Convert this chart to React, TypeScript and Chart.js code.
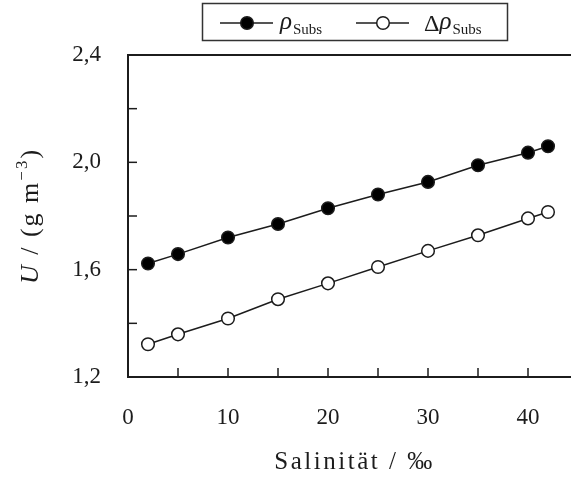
import React, { useEffect, useRef } from 'react';
import { Chart, registerables } from 'chart.js';

Chart.register(...registerables);

// ---- data ----
const salinity = [2, 5, 10, 15, 20, 25, 30, 35, 40, 42];
const rhoSubs = [1.623, 1.658, 1.72, 1.77, 1.829, 1.88, 1.927, 1.989, 2.036, 2.06];
const deltaRhoSubs = [1.322, 1.359, 1.418, 1.49, 1.549, 1.61, 1.67, 1.728, 1.791, 1.815];

const xTickValues = [0, 5, 10, 15, 20, 25, 30, 35, 40];
const xLabelledTicks = [0, 10, 20, 30, 40];
const yTickValues = [1.2, 1.4, 1.6, 1.8, 2.0, 2.2, 2.4];
const yLabelledTicks = [1.2, 1.6, 2.0, 2.4];

const legendPrefixes = ['', 'Δ'];
const legendMain = ['ρ', 'ρ'];
const legendSub = ['Subs', 'Subs'];

const xTitle = 'Salinität / ‰';
const yTitleItalic = 'U';
const yTitleText = ' / (g m';
const yTitleSup = '−3';
const yTitleClose = ')';

const FONT = '"Liberation Serif", "Times New Roman", serif';
const INK = '#1c1c1c';

const near = (a: number, list: number[]) => list.some((v) => Math.abs(v - a) < 1e-6);

const decorPlugin = {
  id: 'decor',
  afterDraw(chart: any) {
    const ctx: CanvasRenderingContext2D = chart.ctx;
    const area = chart.chartArea;
    const xs = chart.scales.x;
    const ys = chart.scales.y;
    ctx.save();
    ctx.strokeStyle = INK;
    ctx.fillStyle = INK;

    // top border
    ctx.lineWidth = 2;
    ctx.beginPath();
    ctx.moveTo(area.left, area.top);
    ctx.lineTo(area.right, area.top);
    ctx.stroke();

    // inward tick marks
    ctx.lineWidth = 1.5;
    ys.ticks.forEach((t: any) => {
      const y = ys.getPixelForValue(t.value);
      ctx.beginPath();
      ctx.moveTo(area.left, y);
      ctx.lineTo(area.left + 9, y);
      ctx.stroke();
    });
    xs.ticks.forEach((t: any) => {
      if (t.value <= 0) return;
      const x = xs.getPixelForValue(t.value);
      ctx.beginPath();
      ctx.moveTo(x, area.bottom);
      ctx.lineTo(x, area.bottom - 9);
      ctx.stroke();
    });

    // x title
    (ctx as any).letterSpacing = '2.5px';
    ctx.font = `25px ${FONT}`;
    ctx.textAlign = 'center';
    ctx.textBaseline = 'alphabetic';
    ctx.fillText(xTitle, (area.left + area.right) / 2 + 5, 469);

    // y title (rotated)
    ctx.save();
    ctx.translate(38, (area.top + area.bottom) / 2);
    ctx.rotate(-Math.PI / 2);
    (ctx as any).letterSpacing = '2px';
    const fMain = `26px ${FONT}`;
    const fIt = `italic 26px ${FONT}`;
    const fSup = `17px ${FONT}`;
    ctx.font = fIt;
    const w1 = ctx.measureText(yTitleItalic).width;
    ctx.font = fMain;
    const w2 = ctx.measureText(yTitleText).width;
    const w4 = ctx.measureText(yTitleClose).width;
    ctx.font = fSup;
    const w3 = ctx.measureText(yTitleSup).width;
    let x = -(w1 + w2 + w3 + w4) / 2;
    ctx.textAlign = 'left';
    ctx.font = fIt;
    ctx.fillText(yTitleItalic, x, 0);
    x += w1;
    ctx.font = fMain;
    ctx.fillText(yTitleText, x, 0);
    x += w2;
    ctx.font = fSup;
    ctx.fillText(yTitleSup, x, -11);
    x += w3;
    ctx.font = fMain;
    ctx.fillText(yTitleClose, x, 0);
    ctx.restore();

    // legend
    (ctx as any).letterSpacing = '0px';
    ctx.strokeStyle = '#333';
    ctx.lineWidth = 1.5;
    ctx.strokeRect(202.5, 3.5, 305, 37);
    const starts = [220, 356];
    const ly = 23;
    chart.data.datasets.forEach((ds: any, i: number) => {
      const sx = starts[i];
      ctx.strokeStyle = INK;
      ctx.lineWidth = 1.5;
      ctx.beginPath();
      ctx.moveTo(sx, ly);
      ctx.lineTo(sx + 53, ly);
      ctx.stroke();
      ctx.beginPath();
      ctx.arc(sx + 27, ly, 6.3, 0, Math.PI * 2);
      ctx.fillStyle = ds.pointBackgroundColor;
      ctx.fill();
      ctx.stroke();
      ctx.fillStyle = INK;
      let tx = sx + 60 + (legendPrefixes[i] ? 8 : 0);
      ctx.textAlign = 'left';
      if (legendPrefixes[i]) {
        ctx.font = `24px ${FONT}`;
        ctx.fillText(legendPrefixes[i], tx, 31);
        tx += ctx.measureText(legendPrefixes[i]).width;
      }
      ctx.font = `italic 25px ${FONT}`;
      ctx.fillText(legendMain[i], tx, 29);
      tx += ctx.measureText(legendMain[i]).width + 1;
      ctx.font = `15px ${FONT}`;
      ctx.fillText(legendSub[i], tx, 34);
    });

    ctx.restore();
  },
};

export default function App() {
  const ref = useRef<HTMLCanvasElement>(null);

  useEffect(() => {
    document.body.style.margin = '0';
    const canvas = ref.current;
    if (!canvas) return;
    const chart = new Chart(canvas, {
      type: 'line',
      data: {
        datasets: [
          {
            label: 'ρSubs',
            data: salinity.map((s, i) => ({ x: s, y: rhoSubs[i] })),
            borderColor: INK,
            borderWidth: 1.5,
            pointRadius: 6.3,
            pointBackgroundColor: '#000000',
            pointBorderColor: INK,
            pointBorderWidth: 1.5,
            tension: 0,
            clip: false as any,
          },
          {
            label: 'ΔρSubs',
            data: salinity.map((s, i) => ({ x: s, y: deltaRhoSubs[i] })),
            borderColor: INK,
            borderWidth: 1.5,
            pointRadius: 6.3,
            pointBackgroundColor: '#ffffff',
            pointBorderColor: INK,
            pointBorderWidth: 1.5,
            tension: 0,
            clip: false as any,
          },
        ],
      },
      options: {
        animation: false,
        responsive: false,
        devicePixelRatio: 1,
        layout: { autoPadding: false, padding: { top: 55, left: 0, right: 0, bottom: 0 } },
        plugins: { legend: { display: false }, tooltip: { enabled: false } },
        scales: {
          x: {
            type: 'linear',
            min: 0,
            max: 44.3,
            afterBuildTicks: (scale: any) => {
              scale.ticks = xTickValues.map((v) => ({ value: v }));
            },
            afterFit: (scale: any) => {
              scale.height = 102;
            },
            ticks: {
              padding: 27,
              color: INK,
              font: { family: FONT, size: 23 },
              maxRotation: 0,
              autoSkip: false,
              callback: (v: any) => (near(Number(v), xLabelledTicks) ? String(v) : ''),
            },
            grid: { display: false, drawTicks: false },
            border: { display: true, color: INK, width: 2 },
          },
          y: {
            type: 'linear',
            min: 1.2,
            max: 2.4,
            afterBuildTicks: (scale: any) => {
              scale.ticks = yTickValues.map((v) => ({ value: v }));
            },
            afterFit: (scale: any) => {
              scale.width = 128;
            },
            ticks: {
              padding: 27,
              color: INK,
              font: { family: FONT, size: 23 },
              autoSkip: false,
              callback: (v: any) =>
                near(Number(v), yLabelledTicks) ? Number(v).toFixed(1).replace('.', ',') : '',
            },
            grid: { display: false, drawTicks: false },
            border: { display: true, color: INK, width: 2 },
          },
        },
      },
      plugins: [decorPlugin],
    });
    return () => chart.destroy();
  }, []);

  return <canvas ref={ref} width={571} height={479} style={{ display: 'block' }} />;
}
